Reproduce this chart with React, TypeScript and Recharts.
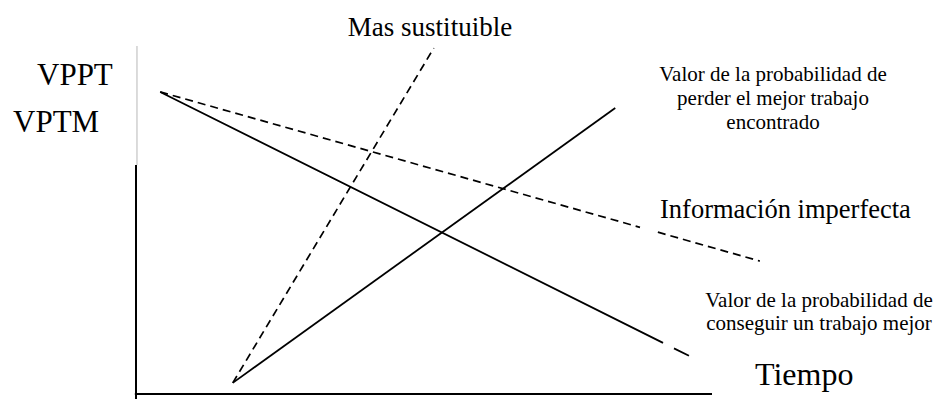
import React from "react";
import { LineChart, Line, XAxis, YAxis, ReferenceLine } from "recharts";

// time axis runs 0..10 under the drawn axis, values 0..10 up the y axis
const conseguirT = [0.42, 9.15, 9.2, 9.34, 9.6];
const conseguirV = [8.68, 1.47, null, 1.31, 1.1];

const perderT = [1.68, 8.32];
const perderV = [0.32, 8.22];

const imperfectaT = [0.42, 8.75, 8.9, 9.06, 10.83];
const imperfectaV = [8.68, 4.79, null, 4.65, 3.82];

const sustituibleT = [1.68, 5.17];
const sustituibleV = [0.32, 9.94];

const perderLabel = ["Valor de la probabilidad de", "perder el mejor trabajo", "encontrado"];
const conseguirLabel = ["Valor de la probabilidad de", "conseguir un trabajo mejor"];

const toRows = (t: number[], v: (number | null)[]) => t.map((x, i) => ({ t: x, v: v[i] }));

const FONT = '"Liberation Serif", "Times New Roman", serif';
const txt = { fontFamily: FONT };

export default function App() {
	return (
		<div style={{ position: "absolute", left: 0, top: 0 }}>
			<LineChart
				width={939}
				height={399}
				margin={{ top: 46, right: 25.4, left: 136, bottom: 5 }}
				style={{ fontFamily: FONT }}
			>
				<XAxis dataKey="t" type="number" domain={[0, 13.5]} hide allowDataOverflow />
				<YAxis type="number" domain={[0, 10]} hide allowDataOverflow />

				{/* axes */}
				<ReferenceLine
					segment={[{ x: 0.017, y: 10 }, { x: 0.017, y: 6.58 }]}
					stroke="#b8b8b8"
					strokeWidth={1}
					ifOverflow="visible"
				/>
				<ReferenceLine
					segment={[{ x: 0, y: 6.58 }, { x: 0, y: -0.16 }]}
					stroke="#000"
					strokeWidth={2}
					ifOverflow="visible"
				/>
				<ReferenceLine
					segment={[{ x: -0.02, y: 0 }, { x: 10, y: 0 }]}
					stroke="#000"
					strokeWidth={2}
					ifOverflow="visible"
				/>

				<Line
					data={toRows(conseguirT, conseguirV)}
					dataKey="v"
					stroke="#000"
					strokeWidth={1.8}
					dot={false}
					isAnimationActive={false}
				/>
				<Line
					data={toRows(perderT, perderV)}
					dataKey="v"
					stroke="#000"
					strokeWidth={1.8}
					dot={false}
					isAnimationActive={false}
				/>
				<Line
					data={toRows(imperfectaT, imperfectaV)}
					dataKey="v"
					stroke="#000"
					strokeWidth={1.7}
					strokeDasharray="8 5"
					dot={false}
					isAnimationActive={false}
				/>
				<Line
					data={toRows(sustituibleT, sustituibleV)}
					dataKey="v"
					stroke="#000"
					strokeWidth={1.7}
					strokeDasharray="8 5"
					dot={false}
					isAnimationActive={false}
				/>

				<text x={430} y={36} textAnchor="middle" fontSize={27} style={txt} fill="#000">
					Mas sustituible
				</text>
				<text x={37} y={85} fontSize={31} style={txt} fill="#000">
					VPPT
				</text>
				<text x={13} y={132} fontSize={31} style={txt} fill="#000">
					VPTM
				</text>
				<text textAnchor="middle" fontSize={21} style={txt} fill="#000">
					{perderLabel.map((s, i) => (
						<tspan key={i} x={773} y={81 + i * 24}>
							{s}
						</tspan>
					))}
				</text>
				<text x={660} y={218} fontSize={26.5} style={txt} fill="#000">
					Información imperfecta
				</text>
				<text textAnchor="middle" fontSize={21} style={txt} fill="#000">
					{conseguirLabel.map((s, i) => (
						<tspan key={i} x={819} y={307 + i * 23}>
							{s}
						</tspan>
					))}
				</text>
				<text x={755} y={385} fontSize={32} style={txt} fill="#000">
					Tiempo
				</text>
			</LineChart>
		</div>
	);
}
